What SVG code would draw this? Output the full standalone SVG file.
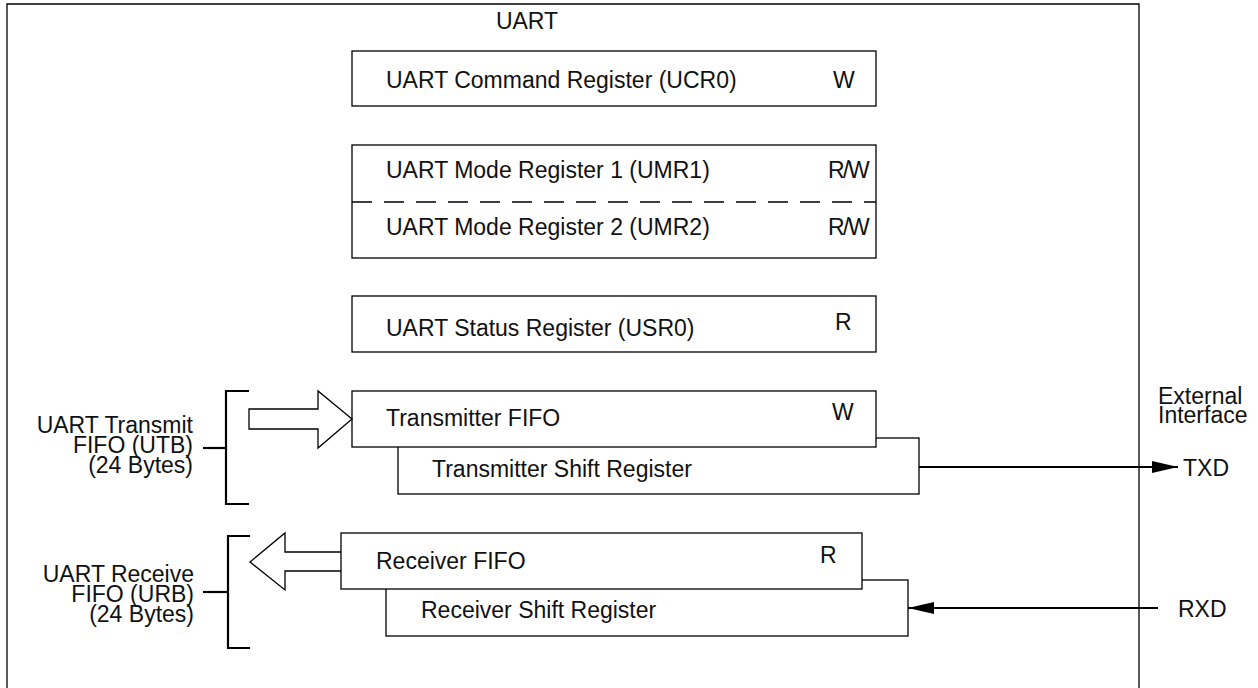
<svg xmlns="http://www.w3.org/2000/svg" width="1258" height="688" viewBox="0 0 1258 688">
<style>
  text { font-family: "Liberation Sans", Arial, Helvetica, sans-serif; font-size: 23px; fill: #111; }
  .box { fill: #fff; stroke: #000; stroke-width: 1.3; }
  .thin { fill: none; stroke: #000; stroke-width: 1.3; }
  .thick { fill: none; stroke: #000; stroke-width: 2.2; }
  .r { text-anchor: end; }
  .rw { letter-spacing: -1.5px; }
</style>
<defs>
  <marker id="ah" markerWidth="26" markerHeight="14" refX="26" refY="7" orient="auto" markerUnits="userSpaceOnUse">
    <path d="M0,1 L26,7 L0,13 Z" fill="#000"/>
  </marker>
</defs>
<rect width="1258" height="688" fill="#fff"/>
<g id="uart">
  <path class="thin" d="M7,692 L7,4 L1139,4 L1139,692"/>
  <text x="527" y="29" text-anchor="middle">UART</text>
</g>
<g id="ucr0">
  <rect class="box" x="352" y="51" width="524" height="55"/>
  <text x="386" y="88">UART Command Register (UCR0)</text>
  <text x="833" y="88">W</text>
</g>
<g id="umr">
  <rect class="box" x="352" y="145" width="524" height="113"/>
  <line x1="352" y1="202" x2="876" y2="202" stroke="#000" stroke-width="1.3" stroke-dasharray="20,12"/>
  <text x="386" y="178">UART Mode Register 1 (UMR1)</text>
  <text class="rw" x="828" y="178">R/W</text>
  <text x="386" y="235">UART Mode Register 2 (UMR2)</text>
  <text class="rw" x="828" y="235">R/W</text>
</g>
<g id="usr0">
  <rect class="box" x="352" y="296" width="524" height="56"/>
  <text x="386" y="336">UART Status Register (USR0)</text>
  <text x="835" y="330">R</text>
</g>
<g id="tx-shift">
  <rect class="box" x="398" y="438" width="521" height="56"/>
  <text x="432" y="477">Transmitter Shift Register</text>
</g>
<g id="tx-fifo">
  <rect class="box" x="352" y="391" width="524" height="56"/>
  <text x="386" y="426">Transmitter FIFO</text>
  <text x="832" y="420">W</text>
</g>
<g id="rx-shift">
  <rect class="box" x="386" y="580" width="522" height="56"/>
  <text x="421" y="618">Receiver Shift Register</text>
</g>
<g id="rx-fifo">
  <rect class="box" x="341" y="533" width="521" height="56"/>
  <text x="376" y="569">Receiver FIFO</text>
  <text x="820" y="563">R</text>
</g>
<g id="utb">
  <path class="thick" d="M249,391 L226,391 L226,504 L249,504"/>
  <text class="r" x="193" y="433">UART Transmit</text>
  <text class="r" x="193" y="453">FIFO (UTB)</text>
  <text class="r" x="193" y="473">(24 Bytes)</text>
</g>
<g id="urb">
  <path class="thick" d="M250,536 L228,536 L228,648 L250,648"/>
  <text class="r" x="194" y="582">UART Receive</text>
  <text class="r" x="194" y="602">FIFO (URB)</text>
  <text class="r" x="194" y="622">(24 Bytes)</text>
</g>
<g id="external">
  <text x="1158" y="404">External</text>
  <text x="1158" y="423">Interface</text>
  <text x="1183" y="476">TXD</text>
  <text x="1178" y="617">RXD</text>
</g>
<g id="connectors">
  <line class="thick" x1="203" y1="448" x2="226" y2="448"/>
  <line class="thick" x1="203" y1="592" x2="228" y2="592"/>
  <path class="thin" fill="#fff" d="M249,409 L318,409 L318,391 L352,419 L318,448 L318,429 L249,429 Z"/>
  <path class="thin" d="M341,552 L285,552 L285,533 L250,562 L285,590 L285,571 L341,571"/>
  <line class="thick" x1="919" y1="467" x2="1178" y2="467" marker-end="url(#ah)"/>
  <line class="thick" x1="1158" y1="608" x2="908" y2="608" marker-end="url(#ah)"/>
</g>
</svg>
